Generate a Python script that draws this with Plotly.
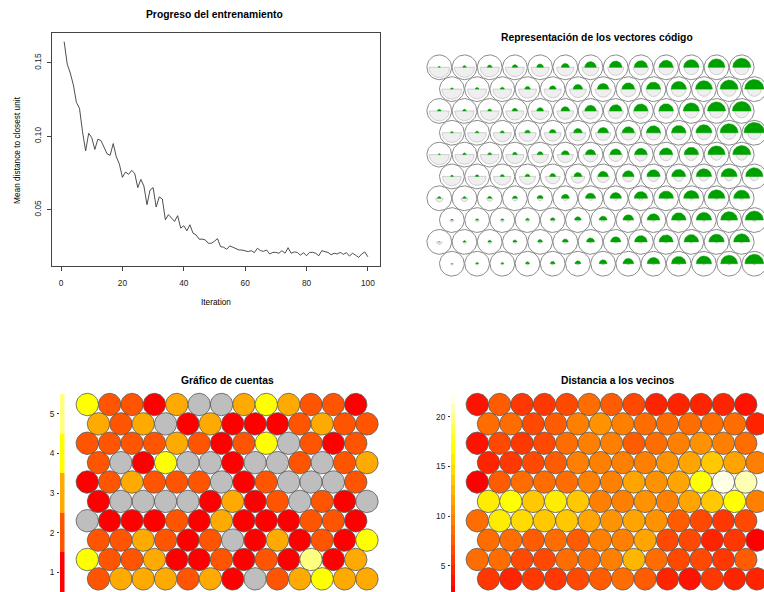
import math
import colorsys
import plotly.graph_objects as go

W, H = 764, 592

# ---------------- data ----------------
iterations = list(range(1, 101))
mean_dist = [
    0.1644, 0.1491, 0.1430, 0.1350, 0.1230, 0.1190, 0.1030, 0.0900, 0.1020, 0.0990,
    0.0910, 0.0980, 0.0970, 0.0920, 0.0880, 0.0870, 0.0950, 0.0860, 0.0810, 0.0720,
    0.0756, 0.0740, 0.0767, 0.0747, 0.0650, 0.0706, 0.0660, 0.0534, 0.0633, 0.0650,
    0.0518, 0.0587, 0.0573, 0.0431, 0.0466, 0.0443, 0.0420, 0.0459, 0.0374, 0.0390,
    0.0356, 0.0397, 0.0340, 0.0328, 0.0299, 0.0299, 0.0294, 0.0271, 0.0271, 0.0285,
    0.0303, 0.0248, 0.0244, 0.0230, 0.0253, 0.0244, 0.0232, 0.0225, 0.0225, 0.0221,
    0.0214, 0.0221, 0.0207, 0.0237, 0.0221, 0.0216, 0.0225, 0.0198, 0.0209, 0.0209,
    0.0203, 0.0221, 0.0203, 0.0241, 0.0203, 0.0212, 0.0209, 0.0190, 0.0207, 0.0186,
    0.0209, 0.0209, 0.0203, 0.0186, 0.0221, 0.0214, 0.0209, 0.0193, 0.0203, 0.0198,
    0.0209, 0.0196, 0.0207, 0.0184, 0.0203, 0.0190, 0.0175, 0.0198, 0.0212, 0.0179,
]
x_ticks = [0, 20, 40, 60, 80, 100]
y_ticks = [0.05, 0.10, 0.15]
y_ticktext = ["0.05", "0.10", "0.15"]

# SOM grid 13 x 10 ; rows listed from top (row 10) to bottom (row 1)
n_cols, n_rows = 13, 10

# codebook vectors (segment radius as fraction of unit circle)
code_var1 = [  # green, upper half
    [.08, .14, .19, .22, .27, .32, .46, .51, .54, .57, .62, .68, .73],
    [.11, .14, .16, .22, .27, .38, .46, .51, .57, .62, .68, .73, .78],
    [.14, .14, .16, .22, .27, .35, .46, .51, .57, .59, .65, .73, .76],
    [.11, .14, .16, .22, .27, .35, .43, .49, .57, .59, .65, .73, .84],
    [.08, .14, .16, .19, .24, .32, .41, .46, .51, .54, .59, .70, .73],
    [.11, .14, .16, .19, .24, .32, .41, .46, .54, .57, .62, .65, .70],
    [.14, .14, .16, .19, .24, .32, .41, .46, .54, .59, .62, .68, .65],
    [.08, .11, .11, .14, .19, .27, .32, .43, .51, .59, .62, .68, .73],
    [.05, .11, .14, .16, .19, .24, .32, .41, .51, .57, .59, .62, .65],
    [.05, .11, .11, .16, .19, .24, .32, .43, .51, .59, .62, .68, .76],
]
code_var2 = [  # light grey, lower half
    [.84, .81, .78, .76, .73, .70, .68, .65, .62, .62, .60, .60, .60],
    [.81, .78, .76, .73, .70, .68, .65, .62, .60, .60, .58, .58, .58],
    [.81, .78, .76, .73, .70, .68, .65, .62, .60, .58, .58, .58, .56],
    [.78, .76, .73, .70, .68, .65, .62, .60, .58, .56, .56, .54, .54],
    [.81, .78, .76, .73, .68, .65, .60, .56, .52, .50, .48, .46, .45],
    [.76, .73, .70, .65, .60, .55, .50, .45, .42, .40, .38, .36, .35],
    [.30, .27, .25, .22, .20, .19, .18, .17, .17, .16, .16, .15, .15],
    [.16, .16, .16, .15, .15, .15, .15, .15, .14, .14, .14, .14, .14],
    [.22, .14, .14, .14, .14, .13, .13, .13, .13, .12, .12, .12, .12],
    [.11, .11, .11, .11, .11, .11, .11, .10, .10, .10, .10, .10, .10],
]

counts = [
    [4, 2, 2, 1, 3, 0, 0, 3, 4, 3, 2, 2, 1],
    [3, 2, 3, 0, 1, 3, 1, 1, 1, 2, 3, 2, 2],
    [2, 2, 2, 2, 3, 2, 1, 2, 4, 0, 2, 1, 2],
    [2, 0, 1, 4, 0, 0, 1, 0, 0, 2, 0, 2, 3],
    [1, 2, 3, 2, 2, 2, 0, 1, 2, 0, 0, 0, 2],
    [1, 0, 0, 0, 0, 1, 3, 1, 2, 0, 2, 1, 0],
    [0, 1, 1, 1, 2, 1, 3, 1, 1, 1, 2, 2, 1],
    [2, 2, 3, 2, 1, 2, 0, 1, 3, 1, 2, 1, 4],
    [4, 2, 2, 3, 1, 1, 2, 1, 2, 1, 5, 1, 3],
    [2, 3, 3, 3, 2, 3, 1, 0, 2, 3, 4, 3, 3],
]
count_ticks = [1, 2, 3, 4, 5]

neigh_dist = [
    [3.5, 7.6, 5.6, 5.6, 6.6, 8.6, 7.6, 6.6, 4.5, 4.5, 4.5, 4.5, 3.5],
    [8.6, 8.6, 6.6, 7.6, 9.6, 10.6, 9.6, 8.6, 8.6, 8.6, 8.6, 8.6, 4.5],
    [3.5, 6.6, 5.6, 6.6, 8.6, 9.6, 9.6, 7.6, 8.6, 9.6, 10.6, 9.6, 8.6],
    [4.5, 5.6, 6.6, 7.6, 9.6, 9.6, 9.6, 9.6, 10.6, 11.6, 13.7, 11.6, 9.6],
    [2.5, 7.6, 8.6, 8.6, 8.6, 9.6, 9.6, 11.6, 10.6, 11.6, 16.7, 22.3, 20.8],
    [15.7, 16.7, 13.7, 15.7, 13.7, 9.6, 9.6, 10.6, 9.6, 11.6, 13.7, 16.7, 9.6],
    [8.6, 15.7, 14.7, 13.7, 13.7, 11.6, 10.6, 11.6, 10.6, 7.6, 6.6, 5.6, 6.6],
    [8.6, 8.6, 7.6, 8.6, 7.6, 9.6, 9.6, 11.6, 6.6, 6.6, 4.5, 5.6, 2.0],
    [8.6, 8.6, 6.6, 6.6, 8.6, 8.6, 9.6, 12.7, 8.6, 6.6, 6.6, 5.6, 7.6],
    [5.6, 4.5, 5.6, 5.6, 6.6, 7.6, 8.6, 7.6, 4.5, 3.5, 5.6, 4.5, 4.5],
]
dist_ticks = [5, 10, 15, 20]
n_dist_colors = 20

# ---------------- helpers ----------------
SQ = math.sqrt(3) / 2


def heat_colors(n):
    j = n // 4
    i = n - j
    cols = []
    for k in range(i):
        h = (1 / 6) * k / (i - 1) if i > 1 else 0
        cols.append(colorsys.hsv_to_rgb(h, 1, 1))
    for k in range(j):
        s0, s1 = 1 - 1 / (2 * j), 1 / (2 * j)
        s = s0 + (s1 - s0) * (k / (j - 1) if j > 1 else 0)
        cols.append(colorsys.hsv_to_rgb(1 / 6, s, 1))
    return ["#%02X%02X%02X" % (round(r * 255), round(g * 255), round(b * 255)) for r, g, b in cols]


def unit_xy(ri, cj):
    r = n_rows - ri  # 10 .. 1
    x = cj + 1 + (0.5 if r % 2 == 1 else 0.0)
    y = r * SQ
    return x, y


def circle_pts(cx, cy, rad, n=48):
    xs = [cx + rad * math.cos(2 * math.pi * k / n) for k in range(n + 1)]
    ys = [cy + rad * math.sin(2 * math.pi * k / n) for k in range(n + 1)]
    return xs, ys


def wedge_pts(cx, cy, rad, a0, a1, n=24):
    xs = [cx] + [cx + rad * math.cos(a0 + (a1 - a0) * k / n) for k in range(n + 1)] + [cx]
    ys = [cy] + [cy + rad * math.sin(a0 + (a1 - a0) * k / n) for k in range(n + 1)] + [cy]
    return xs, ys


def px_domain_x(p0, p1):
    return [p0 / W, p1 / W]


def px_domain_y(p_top, p_bottom):
    return [1 - p_bottom / H, 1 - p_top / H]


def panel_ranges(px_x0, px_x1, px_top, px_bottom, ux, px_ux, uy, px_uy, scale):
    xr = [ux - (px_ux - px_x0) / scale, ux + (px_x1 - px_ux) / scale]
    yr = [uy - (px_bottom - px_uy) / scale, uy + (px_uy - px_top) / scale]
    return xr, yr


fig = go.Figure()
FONT = "Liberation Sans, Arial, Helvetica, sans-serif"

# ---------------- panel 1: training progress ----------------
ymin, ymax = min(mean_dist), max(mean_dist)
ypad = 0.04 * (ymax - ymin)
xpad = 0.04 * (max(iterations) - min(iterations))
fig.add_trace(go.Scatter(x=iterations, y=mean_dist, mode="lines",
                         line=dict(color="#3a3a3a", width=0.9), xaxis="x", yaxis="y",
                         showlegend=False, hoverinfo="skip"))

# ---------------- panel 2: codes ----------------
S2 = 25.2
xr2, yr2 = panel_ranges(382, 764, 0, 296, 1, 439.3, 10 * SQ, 67.3, S2)
R2 = 0.49
ox, oy, gx, gy, wx, wy = [], [], [], [], [], []
for ri in range(n_rows):
    for cj in range(n_cols):
        cx, cy = unit_xy(ri, cj)
        xs, ys = circle_pts(cx, cy, R2)
        ox += xs + [None]; oy += ys + [None]
        xs, ys = wedge_pts(cx, cy, R2 * code_var2[ri][cj], math.pi, 2 * math.pi)
        wx += xs + [None]; wy += ys + [None]
        xs, ys = wedge_pts(cx, cy, R2 * code_var1[ri][cj], 0, math.pi)
        gx += xs + [None]; gy += ys + [None]
fig.add_trace(go.Scatter(x=ox, y=oy, mode="lines", fill="toself", fillcolor="white",
                         line=dict(color="#8a8a8a", width=1), xaxis="x2", yaxis="y2",
                         showlegend=False, hoverinfo="skip"))
fig.add_trace(go.Scatter(x=wx, y=wy, mode="lines", fill="toself", fillcolor="#EFEFEF",
                         line=dict(color="#c4c4c4", width=0.8), xaxis="x2", yaxis="y2",
                         showlegend=False, hoverinfo="skip"))
fig.add_trace(go.Scatter(x=gx, y=gy, mode="lines", fill="toself", fillcolor="#00A000",
                         line=dict(color="#00A000", width=0.5), xaxis="x2", yaxis="y2",
                         showlegend=False, hoverinfo="skip"))

# ---------------- panel 3: counts ----------------
S3 = 22.37
xr3, yr3 = panel_ranges(0, 382, 296, 592, 1, 87.3, 10 * SQ, 404.5, S3)
heat5 = heat_colors(5)
count_cols = ["#BEBEBE"] + heat5
groups = {}
for ri in range(n_rows):
    for cj in range(n_cols):
        cx, cy = unit_xy(ri, cj)
        xs, ys = circle_pts(cx, cy, 0.5)
        g = groups.setdefault(counts[ri][cj], ([], []))
        g[0].extend(xs + [None]); g[1].extend(ys + [None])
for c, (xs, ys) in sorted(groups.items()):
    fig.add_trace(go.Scatter(x=xs, y=ys, mode="lines", fill="toself",
                             fillcolor=count_cols[c], line=dict(color="#555555", width=0.8),
                             xaxis="x3", yaxis="y3", showlegend=False, hoverinfo="skip"))
# key
fig.add_trace(go.Bar(x=[0] * 5, y=[1] * 5, base=[k - 0.5 for k in count_ticks], width=1,
                     marker=dict(color=heat5, line=dict(width=0)),
                     xaxis="x5", yaxis="y5", showlegend=False, hoverinfo="skip"))

# ---------------- panel 4: neighbour distances ----------------
xr4, yr4 = panel_ranges(382, 764, 296, 592, 1, 477.3, 10 * SQ, 404.5, S3)
flat = [v for row in neigh_dist for v in row]
vmin, vmax = min(flat), max(flat)
heatN = heat_colors(n_dist_colors)
bw = (vmax - vmin) / n_dist_colors
dgroups = {}
for ri in range(n_rows):
    for cj in range(n_cols):
        v = neigh_dist[ri][cj]
        k = min(int((v - vmin) / bw), n_dist_colors - 1)
        cx, cy = unit_xy(ri, cj)
        xs, ys = circle_pts(cx, cy, 0.5)
        g = dgroups.setdefault(k, ([], []))
        g[0].extend(xs + [None]); g[1].extend(ys + [None])
for k, (xs, ys) in sorted(dgroups.items()):
    fig.add_trace(go.Scatter(x=xs, y=ys, mode="lines", fill="toself",
                             fillcolor=heatN[k], line=dict(color="#555555", width=0.8),
                             xaxis="x4", yaxis="y4", showlegend=False, hoverinfo="skip"))
fig.add_trace(go.Bar(x=[0] * n_dist_colors, y=[bw] * n_dist_colors,
                     base=[vmin + k * bw for k in range(n_dist_colors)], width=1,
                     marker=dict(color=heatN, line=dict(width=0)),
                     xaxis="x6", yaxis="y6", showlegend=False, hoverinfo="skip"))
key_scale = 9.93  # px per unit
dist_key_range = [vmax - (592 - 394) / key_scale, vmax]

# ---------------- layout ----------------
hidden = dict(visible=False, showgrid=False, zeroline=False, fixedrange=True)
tickfont = dict(family=FONT, size=8.3, color="#222")
fig.update_layout(
    width=W, height=H, margin=dict(l=0, r=0, t=0, b=0),
    paper_bgcolor="white", plot_bgcolor="rgba(0,0,0,0)",
    font=dict(family=FONT, color="black"),
    bargap=0,
    xaxis=dict(domain=px_domain_x(52, 380), range=[min(iterations) - xpad, max(iterations) + xpad],
               tickvals=x_ticks, ticks="outside", ticklen=4, tickcolor="#444",
               showline=True, mirror=True, linecolor="#444", linewidth=1,
               showgrid=False, zeroline=False, tickfont=tickfont, anchor="y",
               ticklabelstandoff=5),
    yaxis=dict(domain=px_domain_y(33, 266), range=[ymin - ypad, ymax + ypad],
               tickvals=y_ticks, ticktext=y_ticktext, tickangle=-90,
               ticks="outside", ticklen=4, tickcolor="#444",
               showline=True, mirror=True, linecolor="#444", linewidth=1,
               showgrid=False, zeroline=False, tickfont=tickfont, anchor="x",
               ticklabelstandoff=3),
    xaxis2=dict(domain=px_domain_x(382, 764), range=xr2, anchor="y2", **hidden),
    yaxis2=dict(domain=px_domain_y(0, 296), range=yr2, anchor="x2", **hidden),
    xaxis3=dict(domain=px_domain_x(0, 382), range=xr3, anchor="y3", **hidden),
    yaxis3=dict(domain=px_domain_y(296, 592), range=yr3, anchor="x3", **hidden),
    xaxis4=dict(domain=px_domain_x(382, 764), range=xr4, anchor="y4", **hidden),
    yaxis4=dict(domain=px_domain_y(296, 592), range=yr4, anchor="x4", **hidden),
    xaxis5=dict(domain=px_domain_x(60, 64.5), range=[-0.5, 0.5], anchor="y5", **hidden),
    yaxis5=dict(domain=px_domain_y(394, 592), range=[0.5, 5.5], anchor="x5",
                tickvals=count_ticks, ticks="outside", ticklen=2, tickcolor="#333",
                showgrid=False, zeroline=False, showline=False, tickfont=tickfont,
                ticklabelstandoff=1, fixedrange=True),
    xaxis6=dict(domain=px_domain_x(451, 455), range=[-0.5, 0.5], anchor="y6", **hidden),
    yaxis6=dict(domain=px_domain_y(394, 592), range=dist_key_range, anchor="x6",
                tickvals=dist_ticks, ticks="outside", ticklen=2, tickcolor="#333",
                showgrid=False, zeroline=False, showline=False, tickfont=tickfont,
                ticklabelstandoff=1, fixedrange=True),
)


def ann(text, x, y, size, bold=False, angle=0):
    fig.add_annotation(text=("<b>%s</b>" % text) if bold else text,
                       x=x / W, y=1 - y / H, xref="paper", yref="paper",
                       showarrow=False, textangle=angle,
                       font=dict(family=FONT, size=size, color="black"),
                       xanchor="center", yanchor="middle")


ann("Progreso del entrenamiento", 215, 15, 10.3, bold=True)
ann("Iteration", 216, 302, 8.3)
ann("Mean distance to closest unit", 17, 150, 8.3, angle=-90)
ann("Representación de los vectores código", 597, 37, 10.3, bold=True)
ann("Gráfico de cuentas", 227, 380, 10.3, bold=True)
ann("Distancia a los vecinos", 618, 380, 10.3, bold=True)

fig.write_html("out.html")
